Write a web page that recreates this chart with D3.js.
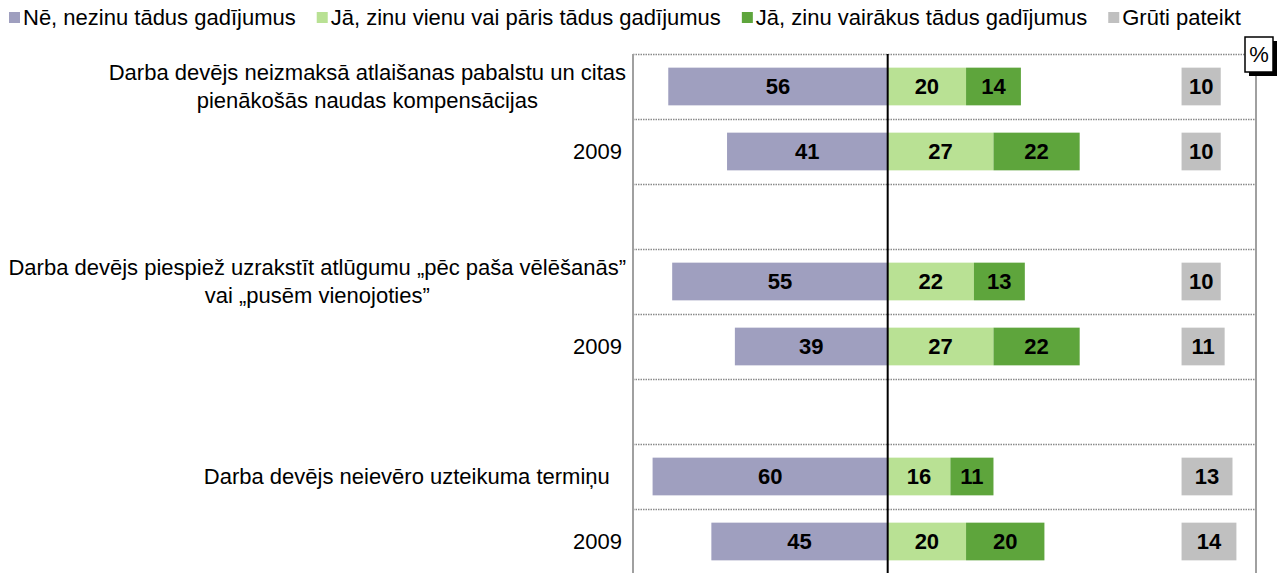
<!DOCTYPE html>
<html lang="lv">
<head>
<meta charset="UTF-8">
<title>Atlaišana</title>
<script src="https://cdn.jsdelivr.net/npm/d3@7"></script>
<style>
  body { margin: 0; background: #fff; }
  text { font-family: "Liberation Sans", Arial, sans-serif; }
</style>
</head>
<body>
<svg id="chart"></svg>
<script>
// row labels (blank rows are spacers between the questions)
var rowLabels = [
  ["Darba devējs neizmaksā atlaišanas pabalstu un citas", "pienākošās naudas kompensācijas"],
  ["2009"],
  [],
  ["Darba devējs piespiež uzrakstīt atlūgumu „pēc paša vēlēšanās”", "vai „pusēm vienojoties”"],
  ["2009"],
  [],
  ["Darba devējs neievēro uzteikuma termiņu  "],
  ["2009"]
];
var seriesNames = ["Nē, nezinu tādus gadījumus", "Jā, zinu vienu vai pāris tādus gadījumus", "Jā, zinu vairākus tādus gadījumus", "Grūti pateikt"];
var colors = ["#9f9fbf", "#b9e194", "#5ea53c", "#c0c0c0"];

var noValues      = [56, 41, null, 55, 39, null, 60, 45];
var oneFewValues  = [20, 27, null, 22, 27, null, 16, 20];
var severalValues = [14, 22, null, 13, 22, null, 11, 20];
var hardValues    = [10, 10, null, 10, 11, null, 13, 14];
var hardOffset = 75; // "Grūti pateikt" column starts here

var W = 1280, H = 573;
var svg = d3.select("#chart").attr("width", W).attr("height", H);

var pLeft = 633, pRight = 1256, pTop = 54, pBottom = 574;
var fs = 22;

var x = d3.scaleLinear().domain([-65, 94]).range([pLeft, pRight]);
var y = d3.scaleBand().domain(d3.range(rowLabels.length)).range([pTop, pBottom])
          .paddingInner(0.42).paddingOuter(0.21);
var step = y.step();

// separators
svg.append("g").selectAll("line")
   .data(d3.range(rowLabels.length))
   .join("line")
   .attr("x1", pLeft).attr("x2", pRight)
   .attr("y1", d => Math.round(pTop + d * step) + 0.5)
   .attr("y2", d => Math.round(pTop + d * step) + 0.5)
   .attr("stroke", "#8a8a8a").attr("stroke-width", 1.5)
   .attr("stroke-dasharray", "1.5,1");

// frame sides
svg.append("line").attr("x1", pLeft).attr("x2", pLeft).attr("y1", pTop).attr("y2", H)
   .attr("stroke", "#a0a0a0").attr("stroke-width", 2);
svg.append("line").attr("x1", pRight).attr("x2", pRight).attr("y1", pTop).attr("y2", H)
   .attr("stroke", "#a0a0a0").attr("stroke-width", 2);

// segments
var segs = [];
rowLabels.forEach(function (r, i) {
  if (noValues[i] == null) return;
  segs.push({ row: i, s: 0, x0: -noValues[i], x1: 0, v: noValues[i] });
  segs.push({ row: i, s: 1, x0: 0, x1: oneFewValues[i], v: oneFewValues[i] });
  segs.push({ row: i, s: 2, x0: oneFewValues[i], x1: oneFewValues[i] + severalValues[i], v: severalValues[i] });
  segs.push({ row: i, s: 3, x0: hardOffset, x1: hardOffset + hardValues[i], v: hardValues[i] });
});

svg.append("g").selectAll("rect")
   .data(segs)
   .join("rect")
   .attr("x", d => x(d.x0))
   .attr("width", d => x(d.x1) - x(d.x0))
   .attr("y", d => y(d.row))
   .attr("height", y.bandwidth())
   .attr("fill", d => colors[d.s]);

svg.append("g").selectAll("text")
   .data(segs)
   .join("text")
   .attr("x", d => (x(d.x0) + x(d.x1)) / 2)
   .attr("y", d => y(d.row) + y.bandwidth() / 2)
   .attr("dy", "0.36em")
   .attr("text-anchor", "middle")
   .attr("font-size", fs)
   .attr("font-weight", "bold")
   .attr("fill", "#000")
   .text(d => d.v);

// zero line
svg.append("line").attr("x1", x(0)).attr("x2", x(0)).attr("y1", pTop).attr("y2", H)
   .attr("stroke", "#000").attr("stroke-width", 2);

// row labels: lines centred on each other, block right-aligned
var lineH = 28;
rowLabels.forEach(function (lines, i) {
  if (!lines.length) return;
  var g = svg.append("g");
  var cy = pTop + i * step + step / 2;
  var texts = lines.map(function (l, k) {
    return g.append("text")
      .attr("font-size", fs)
      .attr("fill", "#000")
      .attr("y", cy + (k - (lines.length - 1) / 2) * lineH)
      .attr("dy", "0.36em")
      .attr("text-anchor", "middle")
      .style("white-space", "pre")
      .text(l);
  });
  var wMax = d3.max(texts, t => t.node().getComputedTextLength());
  var edge = lines.length > 1 ? 626 : 622;
  texts.forEach(t => t.attr("x", edge - wMax / 2));
});

// legend
var lg = svg.append("g");
var lx = 9;
seriesNames.forEach(function (name, i) {
  lg.append("rect").attr("x", lx).attr("y", 12).attr("width", 11).attr("height", 11)
    .attr("fill", colors[i]);
  var t = lg.append("text").attr("x", lx + 14).attr("y", 25)
    .attr("font-size", fs).attr("fill", "#000").text(name);
  lx += 14 + t.node().getComputedTextLength() + 21;
});

// % box with shadow
var bx = 1245, by = 37, bw = 28, bh = 35;
svg.append("rect").attr("x", bx + 4).attr("y", by + 4).attr("width", bw).attr("height", bh).attr("fill", "#000");
svg.append("rect").attr("x", bx).attr("y", by).attr("width", bw).attr("height", bh)
   .attr("fill", "#fff").attr("stroke", "#000").attr("stroke-width", 1.5);
svg.append("text").attr("x", bx + bw / 2).attr("y", by + bh / 2).attr("dy", "0.36em")
   .attr("text-anchor", "middle").attr("font-size", fs).text("%");
</script>
</body>
</html>
